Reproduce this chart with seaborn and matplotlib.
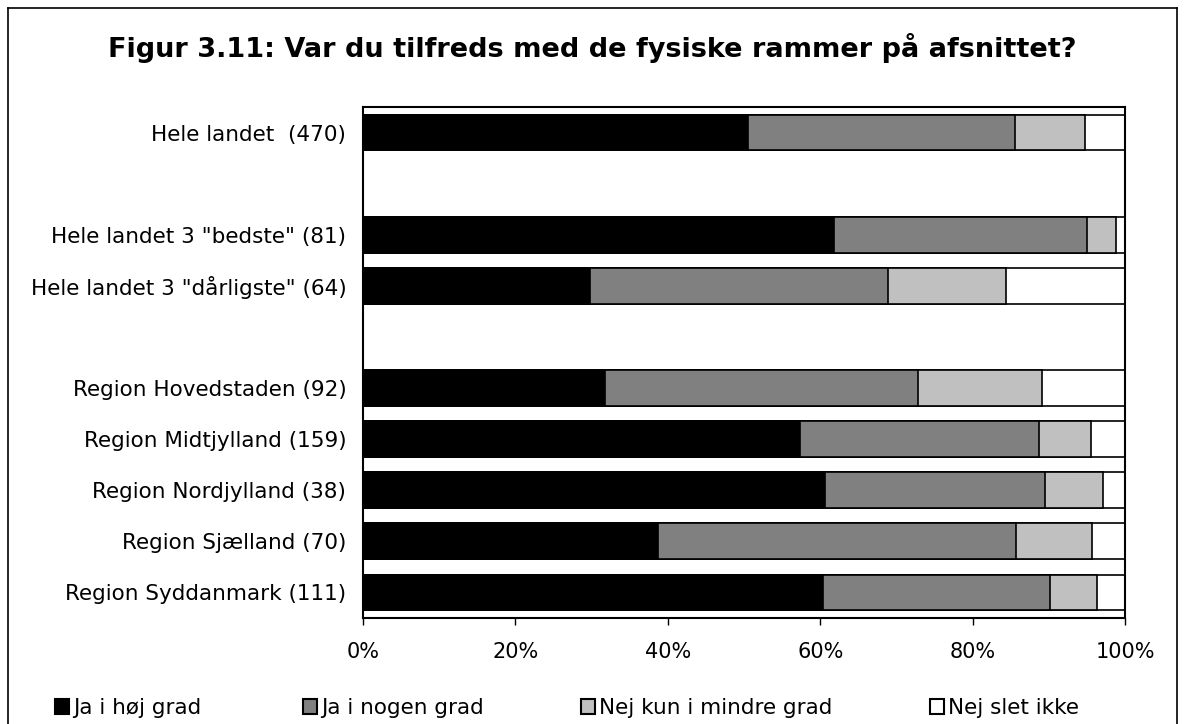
import matplotlib
matplotlib.use("Agg")
import matplotlib.pyplot as plt
import matplotlib.patches as mpatches
import numpy as np
import pandas as pd
import seaborn as sns

# rows, top to bottom (blank names are empty spacer rows)
rows = ['Hele landet  (470)', ' ', 'Hele landet 3 "bedste" (81)',
        'Hele landet 3 "dårligste" (64)', '  ',
        'Region Hovedstaden (92)', 'Region Midtjylland (159)',
        'Region Nordjylland (38)', 'Region Sjælland (70)',
        'Region Syddanmark (111)']
groups = ['Hele landet  (470)', 'Hele landet 3 "bedste" (81)',
          'Hele landet 3 "dårligste" (64)', 'Region Hovedstaden (92)',
          'Region Midtjylland (159)', 'Region Nordjylland (38)',
          'Region Sjælland (70)', 'Region Syddanmark (111)']

# percent per answer
hoej_grad   = [50.5, 61.8, 29.8, 31.8, 57.3, 60.6, 38.7, 60.4]
nogen_grad  = [35.1, 33.2, 39.1, 41.0, 31.4, 28.9, 47.0, 29.8]
mindre_grad = [9.2, 3.8, 15.5, 16.3, 6.8, 7.6, 10.0, 6.1]
slet_ikke   = [5.2, 1.2, 15.6, 10.9, 4.5, 2.9, 4.3, 3.7]

answers = ['Ja i høj grad', 'Ja i nogen grad', 'Nej kun i mindre grad', 'Nej slet ikke']
colors  = ['#000000', '#808080', '#C0C0C0', '#FFFFFF']

df = pd.DataFrame({'group': groups,
                   answers[0]: hoej_grad,
                   answers[1]: nogen_grad,
                   answers[2]: mindre_grad,
                   answers[3]: slet_ikke})

# cumulative ends for stacking
cum = df[answers].cumsum(axis=1)
cum[answers[3]] = 100.0

plt.rcParams['font.family'] = ['DejaVu Sans']

fig = plt.figure(figsize=(11.85, 7.24), dpi=100)
ax = fig.add_axes([363 / 1185, 1 - 618 / 724, 762 / 1185, 511 / 724])

# draw longest first so shorter segments sit on top
for ans, col in reversed(list(zip(answers, colors))):
    sns.barplot(x=cum[ans], y=df['group'], order=rows, orient='h',
                color=col, edgecolor='black', linewidth=1.2,
                width=0.7, saturation=1, ax=ax)

ax.set_xlim(0, 100)
ax.set_ylim(len(rows) - 0.5, -0.5)
ax.set_xticks(np.arange(0, 101, 20))
ax.set_xticklabels([f'{v}%' for v in range(0, 101, 20)])
ax.set_xlabel('')
ax.set_ylabel('')

ax.tick_params(axis='y', length=0, pad=12, labelsize=15.5)
ax.tick_params(axis='x', length=5, width=1, direction='out', pad=12, labelsize=15)
for s in ax.spines.values():
    s.set_linewidth(1.5)
    s.set_color('black')

fig.text(0.5, 1 - 48 / 724, 'Figur 3.11: Var du tilfreds med de fysiske rammer på afsnittet?',
         ha='center', va='center', fontsize=19.5, fontweight='bold')

handles = [mpatches.Patch(facecolor=c, edgecolor='black', linewidth=1.5, label=a)
           for a, c in zip(answers, colors)]
xs = [55, 303, 581, 930]
for h, x in zip(handles, xs):
    fig.legend(handles=[h], loc='center left', bbox_to_anchor=(x / 1185, 1 - 708 / 724),
               frameon=False, fontsize=15.5, handlelength=0.65, handleheight=0.65,
               handletextpad=0.2, borderpad=0, borderaxespad=0)

# outer frame, open at the bottom
lw = 1.2
fx0, fx1, fy1 = 8 / 1185, 1177 / 1185, 1 - 8 / 724
fig.add_artist(plt.Line2D([fx0, fx0], [0, fy1], color='black', lw=lw))
fig.add_artist(plt.Line2D([fx0, fx1], [fy1, fy1], color='black', lw=lw))
fig.add_artist(plt.Line2D([fx1, fx1], [0, fy1], color='black', lw=lw))

fig.savefig('out.png', dpi=100, facecolor='white')
